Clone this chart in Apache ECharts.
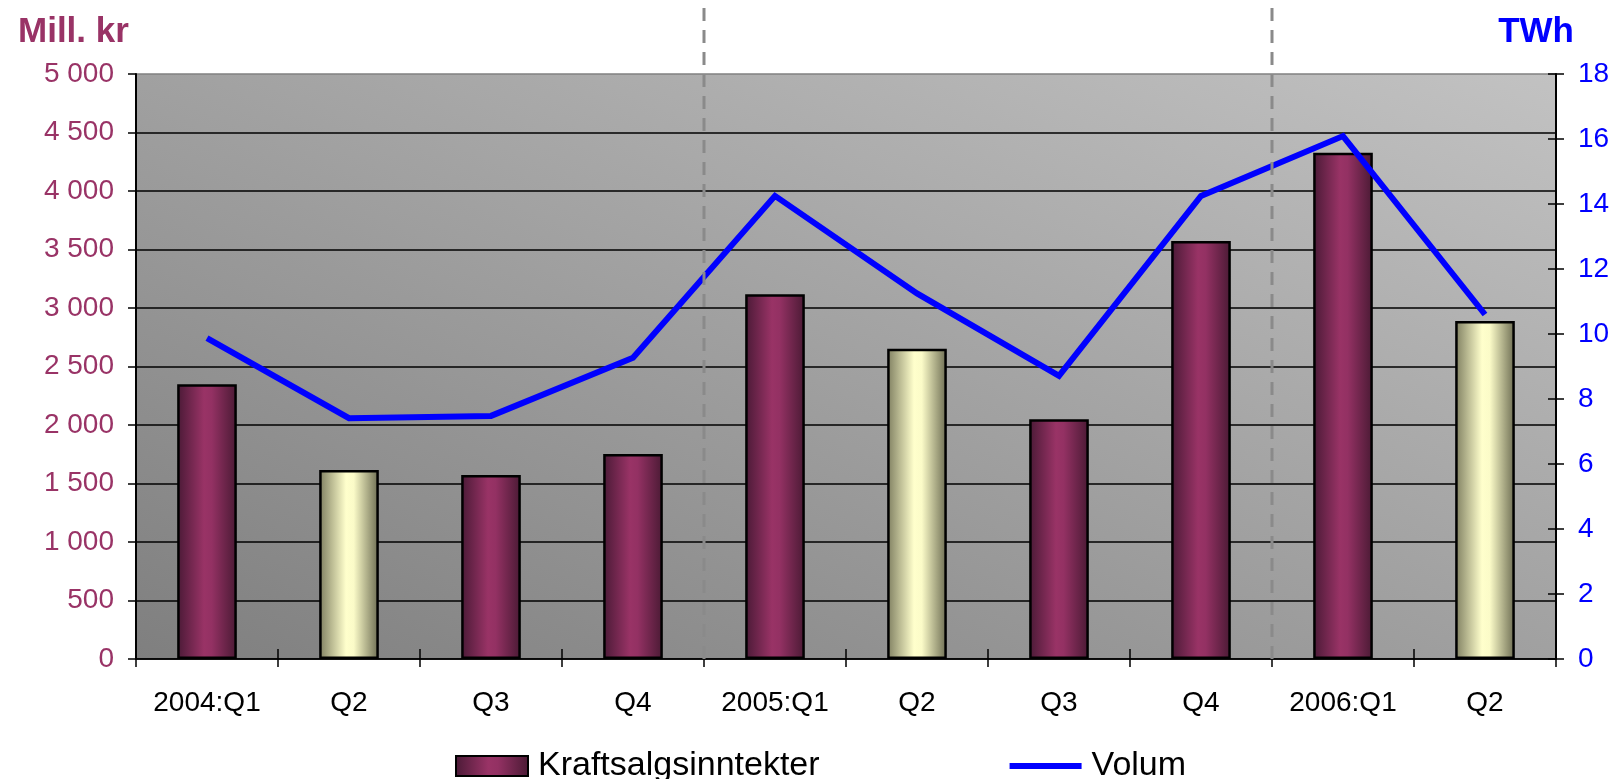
<!DOCTYPE html>
<html>
<head>
<meta charset="utf-8">
<script src="https://cdn.jsdelivr.net/npm/echarts@6/dist/echarts.min.js"></script>
<style>
  html, body { margin: 0; padding: 0; background: #ffffff; }
  #chart { width: 1614px; height: 779px; }
</style>
</head>
<body>
<div id="chart"></div>
<script>
// ---- data ----
var categories = ['2004:Q1', 'Q2', 'Q3', 'Q4', '2005:Q1', 'Q2', 'Q3', 'Q4', '2006:Q1', 'Q2'];
var revenue = [2348, 1615, 1573, 1752, 3117, 2652, 2049, 3572, 4327, 2889];   // Mill. kr
var volume = [9.87, 7.41, 7.48, 9.27, 14.25, 11.25, 8.71, 14.25, 16.09, 10.6]; // TWh
var seriesNames = ['Kraftsalgsinntekter', 'Volum'];
var axisTitles = ['Mill. kr', 'TWh'];

// ---- layout & styles ----
var W = 1614, H = 779;
var G = { left: 136, right: 58, top: 74, bottom: 120 };
var FONT = '"Liberation Sans", Arial, sans-serif';
var PURPLE_TXT = '#993366';
var purpleGrad = new echarts.graphic.LinearGradient(0, 0, 1, 0, [
  { offset: 0, color: '#4a1a36' },
  { offset: 0.45, color: '#993366' },
  { offset: 0.58, color: '#933163' },
  { offset: 1, color: '#4a1a34' }
]);
var yellowGrad = new echarts.graphic.LinearGradient(0, 0, 1, 0, [
  { offset: 0, color: '#7e7e60' },
  { offset: 0.45, color: '#ffffcc' },
  { offset: 0.58, color: '#fbfbc8' },
  { offset: 1, color: '#6c6c52' }
]);

// background gradient: dark bottom-left -> light top-right, equal at the other two corners
var gw = W - G.left - G.right, gh = H - G.top - G.bottom;
var cx = G.left + gw / 2, cy = G.top + gh / 2;
var dl = Math.sqrt(gw * gw + gh * gh);
var ux = gh / dl, uy = -gw / dl;                 // perpendicular to TL-BR diagonal
var half = (gw / 2) * ux + (-gh / 2) * uy;       // projection of TR corner
var bgGrad = new echarts.graphic.LinearGradient(
  cx - half * ux, cy - half * uy, cx + half * ux, cy + half * uy,
  [{ offset: 0, color: '#7f7f7f' }, { offset: 1, color: '#c2c2c2' }], true);

var barData = revenue.map(function (v, i) {
  var item = { value: v };
  if (categories[i] === 'Q2') item.itemStyle = { color: yellowGrad };
  return item;
});

function spaceThousands(v) {
  return String(v).replace(/\B(?=(\d{3})+(?!\d))/g, ' ');
}

var splitColors = [];
for (var k = 0; k < 10; k++) splitColors.push('#000000');
splitColors.push('#808080');

var tickStyle = { color: '#000000', width: 1.5 };

var chart = echarts.init(document.getElementById('chart'), null, { renderer: 'canvas' });
var option = {
  animation: false,
  backgroundColor: '#ffffff',
  textStyle: { fontFamily: FONT },
  title: [
    { text: axisTitles[0], left: 13, top: 10,
      textStyle: { fontFamily: FONT, fontSize: 35, fontWeight: 'bold', color: PURPLE_TXT } },
    { text: axisTitles[1], right: 35, top: 10,
      textStyle: { fontFamily: FONT, fontSize: 35, fontWeight: 'bold', color: '#0000ff' } }
  ],
  grid: {
    left: G.left, right: G.right, top: G.top, bottom: G.bottom,
    show: true, backgroundColor: bgGrad, borderWidth: 0
  },
  legend: {
    left: 450, top: 744,
    itemWidth: 72, itemHeight: 20, itemGap: 190,
    textStyle: { fontFamily: FONT, fontSize: 34, color: '#000000', padding: [0, 0, 0, 5] },
    data: [
      { name: seriesNames[0], icon: 'rect' },
      { name: seriesNames[1], icon: 'path://M0,0H72V6H0Z' }
    ]
  },
  xAxis: [
    {
      type: 'category', data: categories, boundaryGap: true,
      axisLine: { lineStyle: { color: '#000000', width: 1.5 } },
      axisTick: { show: true, length: 8, lineStyle: tickStyle },
      axisLabel: { fontFamily: FONT, fontSize: 28, color: '#000000', margin: 30, interval: 0 },
      splitLine: { show: false }
    },
    {
      type: 'category', data: categories, boundaryGap: true, position: 'bottom',
      axisLine: { show: false },
      axisTick: { show: true, inside: true, length: 10, lineStyle: tickStyle },
      axisLabel: { show: false },
      splitLine: { show: false }
    }
  ],
  yAxis: [
    {
      type: 'value', min: 0, max: 5000, interval: 500, position: 'left',
      axisLine: { show: true, lineStyle: { color: '#000000', width: 2 } },
      axisTick: { show: true, length: 8, lineStyle: tickStyle },
      axisLabel: { fontFamily: FONT, fontSize: 28, color: PURPLE_TXT, margin: 22,
        formatter: spaceThousands },
      splitLine: { show: true, lineStyle: { color: splitColors, width: 1.5 } }
    },
    {
      type: 'value', min: 0, max: 18, interval: 2, position: 'right',
      axisLine: { show: true, lineStyle: { color: '#000000', width: 2 } },
      axisTick: { show: true, length: 8, lineStyle: tickStyle },
      axisLabel: { fontFamily: FONT, fontSize: 28, color: '#0000ff', margin: 22 },
      splitLine: { show: false }
    },
    {
      type: 'value', min: 0, max: 18, interval: 2, position: 'right',
      axisLine: { show: false },
      axisTick: { show: true, inside: true, length: 8, lineStyle: tickStyle },
      axisLabel: { show: false },
      splitLine: { show: false }
    }
  ],
  series: [
    {
      name: seriesNames[0], type: 'bar', yAxisIndex: 0,
      barWidth: '42%',
      itemStyle: { color: purpleGrad, borderColor: '#000000', borderWidth: 2.5 },
      data: barData,
      z: 2
    },
    {
      name: seriesNames[1], type: 'line', yAxisIndex: 1,
      symbol: 'none',
      lineStyle: { color: '#0000ff', width: 6, join: 'miter' },
      itemStyle: { color: '#0000ff' },
      data: volume,
      z: 3
    }
  ]
};
chart.setOption(option);

// dashed separators before each new year (categories containing ':'), placed via the axis scale
var yBottom = chart.convertToPixel({ yAxisIndex: 0 }, 0);
var graphics = [];
categories.forEach(function (c, i) {
  if (i > 0 && c.indexOf(':') >= 0) {
    var xa = chart.convertToPixel({ xAxisIndex: 0 }, i - 1);
    var xb = chart.convertToPixel({ xAxisIndex: 0 }, i);
    var xm = (xa + xb) / 2;
    graphics.push({
      type: 'line', z: 100,
      shape: { x1: xm, y1: 8, x2: xm, y2: yBottom },
      style: { stroke: '#8a8a8a', lineWidth: 3, lineDash: [13, 9] }
    });
  }
});
chart.setOption({ graphic: graphics });
</script>
</body>
</html>
